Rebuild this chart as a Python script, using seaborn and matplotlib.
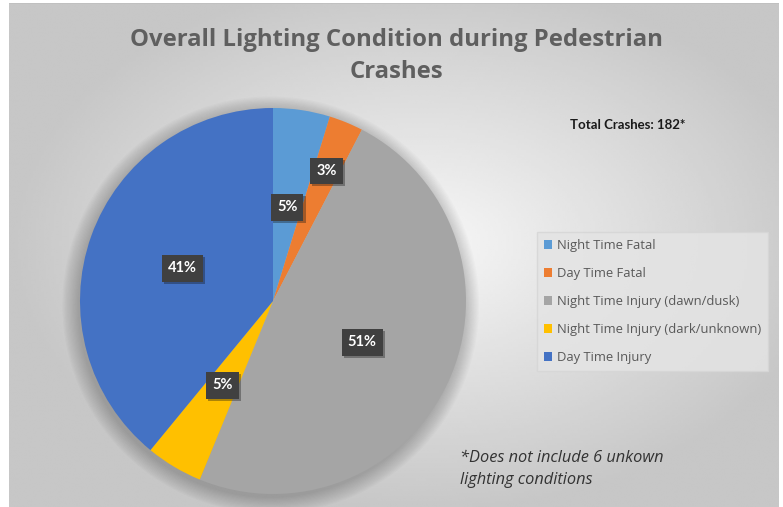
import matplotlib
matplotlib.use("Agg")
import matplotlib.pyplot as plt
import matplotlib.patheffects as pe
import numpy as np
import seaborn as sns

# ---------------------------------------------------------------------------
# Data (Excel normalises 105% to the full pie)
# ---------------------------------------------------------------------------
CATEGORIES = [
    "Night Time Fatal",
    "Day Time Fatal",
    "Night Time Injury (dawn/dusk)",
    "Night Time Injury (dark/unknown)",
    "Day Time Injury",
]
SHARES = [5, 3, 51, 5, 41]
LABELS = ["5%", "3%", "51%", "5%", "41%"]
COLORS = ["#5B9BD5", "#ED7D31", "#A5A5A5", "#FFC000", "#4472C4"]
LABEL_DIST = [0.49, 0.73, 0.51, 0.51, 0.50]

TITLE = "Overall Lighting Condition during Pedestrian\nCrashes"
TOTAL_NOTE = "Total Crashes: 182*"
FOOTNOTE = "*Does not include 6 unkown\nlighting conditions"

W, H = 783, 507

sns.set_theme(style="white")
plt.rcParams["font.family"] = ["Lato", "DejaVu Sans"]

fig = plt.figure(figsize=(W / 100, H / 100), dpi=100, facecolor="white")

# radial grey background of the chart area
bg = fig.add_axes([9 / W, 0, 1 - 13 / W, 1 - 3 / H])
yy, xx = np.mgrid[0:200, 0:300]
rr = np.sqrt(((xx - 160) / 300) ** 2 + ((yy - 95) / 200) ** 2)
shade = np.clip(0.97 - 0.36 * rr, 0.78, 0.97)
bg.imshow(shade, cmap="gray", vmin=0, vmax=1, aspect="auto",
          extent=(0, 1, 0, 1), interpolation="bilinear")
bg.axhline(1, color="#bfbfbf", lw=1.2)
bg.set_axis_off()

# pie
cx, cy, r = 273, 301, 193
ax = fig.add_axes([(cx - r) / W, (H - cy - r) / H, 2 * r / W, 2 * r / H])

# soft shadow under the pie
for rad in np.linspace(1.0, 1.08, 14):
    ax.add_patch(plt.Circle((-0.012, -0.02), rad, color="black",
                            alpha=0.016, lw=0, zorder=0, clip_on=False))

wedges, _ = ax.pie(SHARES, colors=COLORS, startangle=90, counterclock=False,
                   radius=1, wedgeprops=dict(linewidth=0))
for w in wedges:
    w.set_zorder(2)
ax.set_xlim(-1, 1)
ax.set_ylim(-1, 1)
ax.set_aspect("equal")
ax.set_axis_off()

for w, lab, d in zip(wedges, LABELS, LABEL_DIST):
    mid = np.deg2rad((w.theta1 + w.theta2) / 2)
    t = ax.text(d * np.cos(mid), d * np.sin(mid), lab, ha="center", va="center",
                color="white", fontsize=10.5, fontweight="bold", zorder=5,
                bbox=dict(boxstyle="square,pad=0.42", fc="#404040", ec="none"))
    t.get_bbox_patch().set_path_effects(
        [pe.SimplePatchShadow(offset=(1.5, -1.5), alpha=0.35), pe.Normal()])

# texts
fig.text(396 / W, 1 - 56 / H, TITLE, ha="center", va="center",
         fontsize=17.2, fontweight="bold", color="#5f5f5f", linespacing=1.5,
         family=["Open Sans", "DejaVu Sans"])
fig.text(628 / W, 1 - 125 / H, TOTAL_NOTE, ha="center", va="center",
         fontsize=9.5, fontweight="bold", color="#1a1a1a")
fig.text(460 / W, 1 - 469 / H, FOOTNOTE, ha="left", va="center",
         fontsize=11.8, style="italic", color="#333333", linespacing=1.45,
         family=["Open Sans", "DejaVu Sans"])

leg = fig.legend(wedges, CATEGORIES, loc="upper left",
                 bbox_to_anchor=(537 / W, 1 - 232 / H),
                 frameon=True, fancybox=False, facecolor="#e4e4e4",
                 edgecolor="#d6d6d6", framealpha=0.85,
                 prop={"family": ["Open Sans", "DejaVu Sans"], "size": 9.4},
                 labelcolor="#595959", handlelength=0.6, handleheight=0.6,
                 handletextpad=0.35, labelspacing=1.15, borderpad=0.55,
                 borderaxespad=0)

fig.savefig("out.png", dpi=100, facecolor="white")
